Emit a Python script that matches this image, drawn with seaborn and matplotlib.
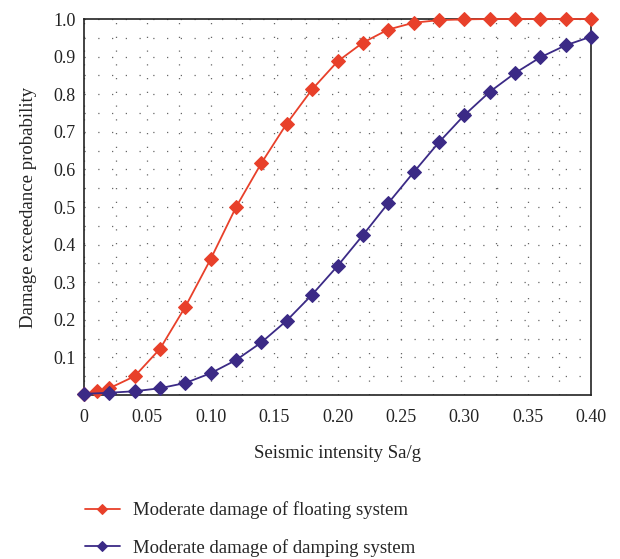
import matplotlib
matplotlib.use("Agg")
import matplotlib.pyplot as plt
import seaborn as sns
import numpy as np
import pandas as pd
from matplotlib.ticker import MultipleLocator, FixedLocator

float_x = [0, 0.01, 0.02, 0.04, 0.06, 0.08, 0.10, 0.12, 0.14, 0.16, 0.18, 0.20,
           0.22, 0.24, 0.26, 0.28, 0.30, 0.32, 0.34, 0.36, 0.38, 0.40]
float_y = [0.003, 0.010, 0.018, 0.050, 0.123, 0.235, 0.362, 0.500, 0.617, 0.722, 0.813, 0.887,
           0.937, 0.972, 0.990, 0.997, 0.999, 1.000, 1.000, 1.000, 1.000, 1.000]
damp_x = [0, 0.02, 0.04, 0.06, 0.08, 0.10, 0.12, 0.14, 0.16, 0.18, 0.20,
          0.22, 0.24, 0.26, 0.28, 0.30, 0.32, 0.34, 0.36, 0.38, 0.40]
damp_y = [0.003, 0.006, 0.010, 0.018, 0.032, 0.058, 0.093, 0.140, 0.198, 0.267, 0.343,
          0.425, 0.510, 0.592, 0.672, 0.744, 0.806, 0.856, 0.898, 0.930, 0.953]
labels = ["Moderate damage of floating system", "Moderate damage of damping system"]
x_ticks = [0, 0.05, 0.10, 0.15, 0.20, 0.25, 0.30, 0.35, 0.40]
x_tick_labels = ["0", "0.05", "0.10", "0.15", "0.20", "0.25", "0.30", "0.35", "0.40"]
y_ticks = [0.1, 0.2, 0.3, 0.4, 0.5, 0.6, 0.7, 0.8, 0.9, 1.0]
y_tick_labels = ["0.1", "0.2", "0.3", "0.4", "0.5", "0.6", "0.7", "0.8", "0.9", "1.0"]

sns.set_style("white")
plt.rcParams['font.family'] = ['Liberation Serif', 'DejaVu Serif']

red = "#e8402a"
blue = "#3b2a86"

fig = plt.figure(figsize=(6.2, 5.59), dpi=100)
ax = fig.add_axes([84/620, 1-395/559, (591-84)/620, (395-19)/559])

df1 = pd.DataFrame({"x": float_x, "y": float_y})
df2 = pd.DataFrame({"x": damp_x, "y": damp_y})
sns.lineplot(data=df1, x="x", y="y", ax=ax, color=red, marker="D", markersize=6.8,
             markeredgecolor=red, linewidth=1.3, label=labels[0], clip_on=False, zorder=4)
sns.lineplot(data=df2, x="x", y="y", ax=ax, color=blue, marker="D", markersize=6.8,
             markeredgecolor=blue, linewidth=1.3, label=labels[1], clip_on=False, zorder=4)

ax.set_xlim(0, 0.40)
ax.set_ylim(0, 1.0)
ax.xaxis.set_major_locator(FixedLocator(x_ticks))
ax.set_xticklabels(x_tick_labels)
ax.xaxis.set_minor_locator(MultipleLocator(0.025))
ax.yaxis.set_major_locator(FixedLocator(y_ticks))
ax.set_yticklabels(y_tick_labels)
ax.yaxis.set_minor_locator(MultipleLocator(0.05))

ax.grid(which="both", linestyle=(0, (1, 10)), color="#666666", linewidth=0.9)
ax.tick_params(which="both", direction="in", labelsize=13, colors="#222222")
ax.tick_params(which="major", length=5, width=1)
ax.tick_params(which="minor", length=3, width=1)
ax.tick_params(axis="x", pad=10)
ax.tick_params(axis="y", pad=6)
for s in ax.spines.values():
    s.set_color("#222222")
    s.set_linewidth(1.2)

ax.set_xlabel("Seismic intensity Sa/g", fontsize=13.5, labelpad=14, color="#222222")
ax.set_ylabel("Damage exceedance probability", fontsize=13.5, labelpad=12, color="#222222")

h, l = ax.get_legend_handles_labels()
ax.legend_.remove()
fig.legend(h, l, loc="upper left", bbox_to_anchor=(77/620, 1-494/559), frameon=False,
           fontsize=13.5, handlelength=1.9, labelspacing=1.05, handletextpad=0.7,
           markerscale=0.8, borderaxespad=0)

fig.savefig("out.png", dpi=100)
